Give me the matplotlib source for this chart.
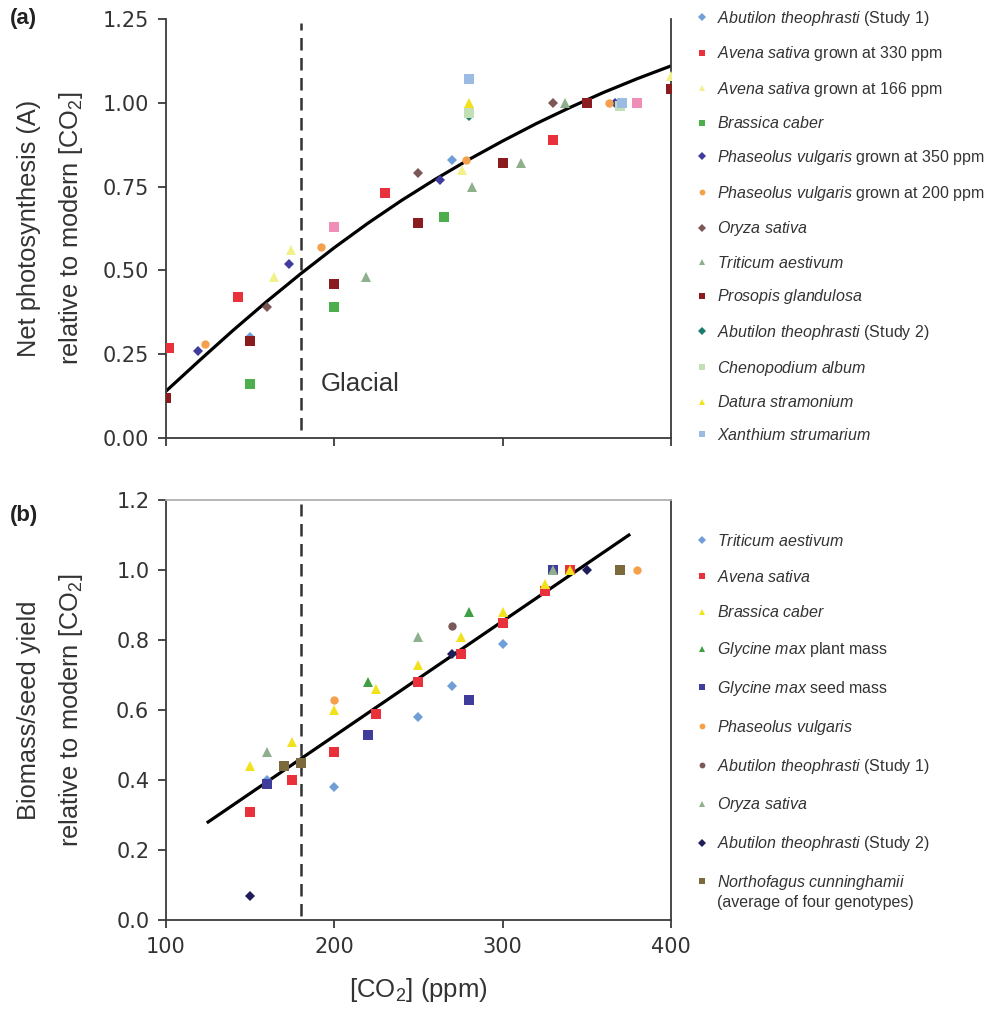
import matplotlib
matplotlib.use("Agg")
import matplotlib.pyplot as plt
from matplotlib.lines import Line2D

plt.rcParams["font.family"] = ["Liberation Sans", "DejaVu Sans"]
plt.rcParams["mathtext.fontset"] = "custom"
plt.rcParams["mathtext.rm"] = "Liberation Sans"
plt.rcParams["mathtext.it"] = "Liberation Sans:italic"
plt.rcParams["mathtext.bf"] = "Liberation Sans:bold"

# ---- panel (a): net photosynthesis ----
a_labels = [
    r"$\mathit{Abutilon\ theophrasti}$ (Study 1)",
    r"$\mathit{Avena\ sativa}$ grown at 330 ppm",
    r"$\mathit{Avena\ sativa}$ grown at 166 ppm",
    r"$\mathit{Brassica\ caber}$",
    r"$\mathit{Phaseolus\ vulgaris}$ grown at 350 ppm",
    r"$\mathit{Phaseolus\ vulgaris}$ grown at 200 ppm",
    r"$\mathit{Oryza\ sativa}$",
    r"$\mathit{Triticum\ aestivum}$",
    r"$\mathit{Prosopis\ glandulosa}$",
    r"$\mathit{Abutilon\ theophrasti}$ (Study 2)",
    r"$\mathit{Chenopodium\ album}$",
    r"$\mathit{Datura\ stramonium}$",
    r"$\mathit{Xanthium\ strumarium}$",
]
a_x = [
    [150, 270],
    [102, 143, 230, 330],
    [164, 174, 276, 280, 400],
    [150, 200, 265],
    [119, 173, 263, 367],
    [123, 192, 278, 363],
    [160, 250, 330],
    [219, 282, 311, 337],
    [100, 150, 200, 250, 300, 350, 400],
    [280],
    [280, 370],
    [280],
    [280, 371],
]
a_y = [
    [0.30, 0.83],
    [0.27, 0.42, 0.73, 0.89],
    [0.48, 0.56, 0.80, 0.985, 1.08],
    [0.16, 0.39, 0.66],
    [0.26, 0.52, 0.77, 1.00],
    [0.28, 0.57, 0.83, 1.00],
    [0.39, 0.79, 1.00],
    [0.48, 0.75, 0.82, 1.00],
    [0.12, 0.29, 0.46, 0.64, 0.82, 1.00, 1.04],
    [0.96],
    [0.97, 0.99],
    [1.00],
    [1.07, 1.00],
]
a_colors = ["#6f9fd6", "#e8313a", "#f1f08a", "#4cae4c", "#3f3c9c", "#f5a04c",
            "#7d5656", "#8fb08c", "#8a1c1f", "#1d7a6c", "#c3dfb6", "#f2e21e", "#9cbbe3"]
a_markers = ["D", "s", "^", "s", "D", "o", "D", "^", "s", "D", "s", "^", "s"]
# pink squares without legend entry
pink_x = [200, 380]
pink_y = [0.63, 1.00]

curve_x = [100, 120, 140, 160, 180, 200, 220, 240, 260, 280, 300, 320, 340, 360, 380, 400]
curve_y = [0.14, 0.232, 0.322, 0.408, 0.490, 0.568, 0.641, 0.709, 0.772, 0.831, 0.886,
           0.938, 0.986, 1.031, 1.072, 1.11]

# ---- panel (b): biomass / seed yield ----
b_labels = [
    r"$\mathit{Triticum\ aestivum}$",
    r"$\mathit{Avena\ sativa}$",
    r"$\mathit{Brassica\ caber}$",
    r"$\mathit{Glycine\ max}$ plant mass",
    r"$\mathit{Glycine\ max}$ seed mass",
    r"$\mathit{Phaseolus\ vulgaris}$",
    r"$\mathit{Abutilon\ theophrasti}$ (Study 1)",
    r"$\mathit{Oryza\ sativa}$",
    r"$\mathit{Abutilon\ theophrasti}$ (Study 2)",
    r"$\mathit{Northofagus\ cunninghamii}$",
]
b_note = "(average of four genotypes)"
b_x = [
    [160, 200, 250, 270, 300],
    [150, 175, 200, 225, 250, 275, 300, 325, 340],
    [150, 175, 200, 225, 250, 275, 300, 325, 340],
    [220, 280],
    [160, 220, 280, 330],
    [200, 380],
    [270],
    [160, 250, 330],
    [150, 270, 350],
    [170, 180, 370],
]
b_y = [
    [0.40, 0.38, 0.58, 0.67, 0.79],
    [0.31, 0.40, 0.48, 0.59, 0.68, 0.76, 0.85, 0.94, 1.00],
    [0.44, 0.51, 0.60, 0.66, 0.73, 0.81, 0.88, 0.96, 1.00],
    [0.68, 0.88],
    [0.39, 0.53, 0.63, 1.00],
    [0.63, 1.00],
    [0.84],
    [0.48, 0.81, 1.00],
    [0.07, 0.76, 1.00],
    [0.44, 0.45, 1.00],
]
b_colors = ["#6f9fd6", "#e8313a", "#f2e21e", "#3fa043", "#3f3c9c", "#f5a04c",
            "#7a5a58", "#8fb08c", "#1e1e5a", "#7a6a3c"]
b_markers = ["D", "s", "^", "^", "s", "o", "o", "^", "D", "s"]

line_x = [125, 375]
line_y = [0.28, 1.10]

GLACIAL = 180
TICK_FONT = ["DejaVu Sans"]
AXIS_C = "#3a3a3a"
TXT_C = "#333333"

MSIZE = {"s": 6.5, "D": 5.2, "o": 6.0, "^": 7.0}


def estilo(ax, top=False):
    for sp in ax.spines.values():
        sp.set_color(AXIS_C)
        sp.set_linewidth(1.3)
    ax.spines["top"].set_visible(top)
    if top:
        ax.spines["top"].set_color("#b0b0b0")
    ax.tick_params(direction="out", length=6, width=1.3, pad=6, colors=AXIS_C,
                   labelsize=15, labelcolor=TXT_C, top=False, right=False)
    for lbl in ax.get_xticklabels() + ax.get_yticklabels():
        lbl.set_family(TICK_FONT)


def leyenda(fig, labels, colors, markers, y_top, spacing):
    handles = [Line2D([], [], linestyle="none", marker=m, color=c, markeredgewidth=0,
                      markersize=MSIZE[m] * 0.7) for c, m in zip(colors, markers)]
    leg = fig.legend(handles, labels, loc="upper left", bbox_to_anchor=(0.700, y_top),
                     frameon=False, fontsize=11.5, handlelength=0.9, handletextpad=0.5,
                     labelspacing=spacing, borderpad=0, borderaxespad=0)
    for t in leg.get_texts():
        t.set_color(TXT_C)
    return leg


fig = plt.figure(figsize=(9.93, 10.10), dpi=100)
ax_a = fig.add_axes([0.1672, 0.5663, 0.5085, 0.4149])
ax_b = fig.add_axes([0.1672, 0.0891, 0.5085, 0.4158])

# panel a
ax_a.plot(curve_x, curve_y, color="black", lw=2.3, zorder=2)
for xs, ys, c, m in zip(a_x, a_y, a_colors, a_markers):
    ax_a.plot(xs, ys, linestyle="none", marker=m, color=c, markeredgewidth=0,
              markersize=MSIZE[m], zorder=3)
ax_a.plot(pink_x, pink_y, linestyle="none", marker="s", color="#ef8fb8",
          markeredgewidth=0, markersize=MSIZE["s"], zorder=3)
ax_a.axvline(GLACIAL, ymin=0.02, ymax=0.99, color=TXT_C, lw=1.8, ls=(0, (5, 3)), zorder=1)
ax_a.text(192, 0.16, "Glacial", fontsize=18.5, color=TXT_C, va="center")
ax_a.set_xlim(100, 400)
ax_a.set_ylim(0, 1.25)
ax_a.set_xticks([100, 200, 300, 400])
ax_a.set_xticklabels([])
ax_a.set_yticks([0, 0.25, 0.5, 0.75, 1.0, 1.25])
ax_a.set_yticklabels(["0.00", "0.25", "0.50", "0.75", "1.00", "1.25"])
ax_a.set_ylabel("Net photosynthesis (A)\nrelative to modern [CO$_2$]",
                fontsize=18.3, color=TXT_C, linespacing=1.75)
estilo(ax_a, top=False)

# panel b
ax_b.plot(line_x, line_y, color="black", lw=2.3, zorder=2)
for xs, ys, c, m in zip(b_x, b_y, b_colors, b_markers):
    ax_b.plot(xs, ys, linestyle="none", marker=m, color=c, markeredgewidth=0,
              markersize=MSIZE[m], zorder=3)
ax_b.axvline(GLACIAL, ymin=0.01, ymax=0.99, color=TXT_C, lw=1.8, ls=(0, (5, 3)), zorder=1)
ax_b.set_xlim(100, 400)
ax_b.set_ylim(0, 1.2)
ax_b.set_xticks([100, 200, 300, 400])
ax_b.set_yticks([0, 0.2, 0.4, 0.6, 0.8, 1.0, 1.2])
ax_b.set_yticklabels(["0.0", "0.2", "0.4", "0.6", "0.8", "1.0", "1.2"])
ax_b.set_ylabel("Biomass/seed yield\nrelative to modern [CO$_2$]",
                fontsize=18.3, color=TXT_C, linespacing=1.75)
ax_b.set_xlabel("[CO$_2$] (ppm)", fontsize=18.5, color=TXT_C, labelpad=14)
estilo(ax_b, top=True)

# both y labels share the same x position
ax_a.yaxis.set_label_coords(-0.160, 0.5)
ax_b.yaxis.set_label_coords(-0.160, 0.5)

fig.text(0.010, 0.982, "(a)", fontsize=16, fontweight="bold", color="#222222", va="center")
fig.text(0.010, 0.490, "(b)", fontsize=16, fontweight="bold", color="#222222", va="center")

leyenda(fig, a_labels, a_colors, a_markers, 0.9915, 1.04)
leg_b = leyenda(fig, b_labels, b_colors, b_markers, 0.4725, 1.24)

# second line of the last legend entry, placed just under its first line
fig.canvas.draw()
bb = leg_b.get_texts()[-1].get_window_extent().transformed(fig.transFigure.inverted())
fig.text(bb.x0, bb.y0 - 0.003, b_note, fontsize=11.5, color=TXT_C, va="top", ha="left")

fig.savefig("out.png", dpi=100, facecolor="white")
